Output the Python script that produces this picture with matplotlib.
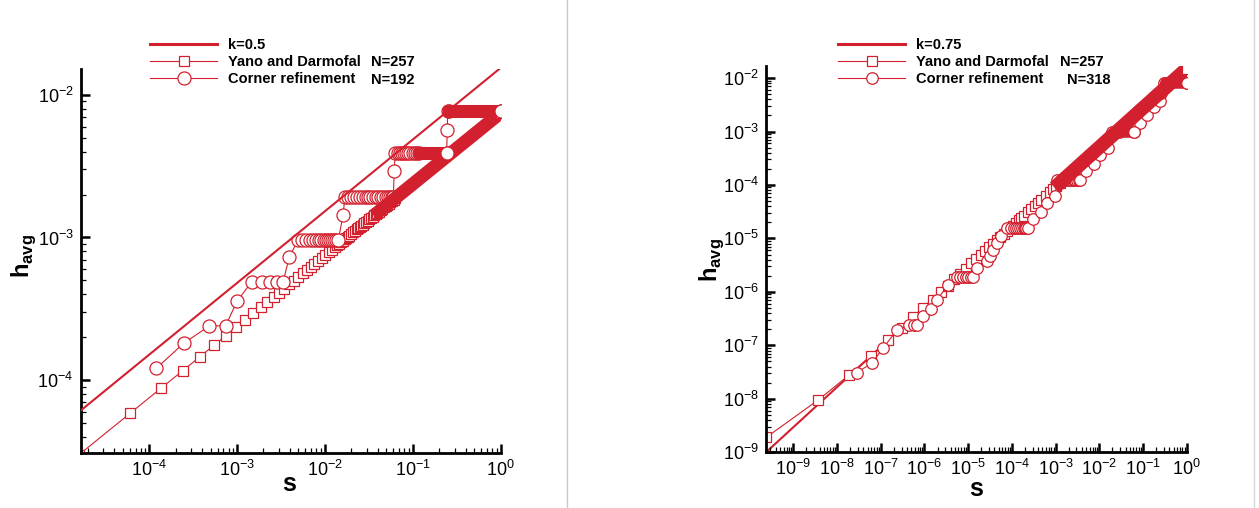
import numpy as np
import matplotlib
matplotlib.use('Agg')
import matplotlib.pyplot as plt
from matplotlib.ticker import LogLocator, FixedLocator, NullFormatter
from matplotlib.lines import Line2D

plt.rcParams['font.family'] = ['Liberation Sans', 'DejaVu Sans']
plt.rcParams['mathtext.fontset'] = 'custom'
plt.rcParams['mathtext.rm'] = 'Liberation Sans Narrow'
plt.rcParams['mathtext.bf'] = 'Liberation Sans:bold'

RED = '#d2202e'
W, H = 1259, 508

# ---------------- left panel, k=0.5 ----------------
ref1_s = [1.66e-5, 1.0]
ref1_h = [6.1e-5, 1.55e-2]

yano1_s = [1.6e-5, 6.1e-5, 1.37e-4, 2.4e-4, 3.8e-4, 5.5e-4, 7.5e-4, 9.8e-4,
           1.24e-3, 1.53e-3, 1.85e-3, 2.2e-3, 2.6e-3, 3.0e-3, 3.4e-3, 3.9e-3,
           4.4e-3, 5.0e-3, 5.6e-3, 6.2e-3, 6.9e-3, 7.6e-3, 8.4e-3, 9.2e-3,
           1.0e-2, 1.1e-2, 1.2e-2, 1.3e-2, 1.38e-2, 1.45e-2, 1.53e-2, 1.6e-2,
           1.68e-2, 1.75e-2, 1.83e-2, 1.9e-2, 2.0e-2, 2.1e-2, 2.2e-2, 2.3e-2,
           2.4e-2, 2.5e-2, 2.6e-2, 2.7e-2, 2.82e-2, 2.95e-2, 3.07e-2, 3.2e-2,
           3.35e-2, 3.5e-2, 3.65e-2, 3.8e-2, 3.95e-2, 4.1e-2, 4.3e-2, 4.5e-2,
           4.7e-2, 4.9e-2, 5.1e-2, 5.3e-2, 5.55e-2, 5.8e-2, 6.05e-2, 6.3e-2, 1.0]
yano1_h = [3.0e-5, 5.86e-5, 8.78e-5, 1.16e-4, 1.46e-4, 1.76e-4, 2.05e-4, 2.35e-4,
           2.64e-4, 2.93e-4, 3.23e-4, 3.52e-4, 3.82e-4, 4.11e-4, 4.37e-4, 4.68e-4,
           4.97e-4, 5.3e-4, 5.61e-4, 5.9e-4, 6.23e-4, 6.54e-4, 6.87e-4, 7.19e-4,
           7.5e-4, 7.87e-4, 8.22e-4, 8.55e-4, 8.81e-4, 9.03e-4, 9.28e-4, 9.49e-4,
           9.72e-4, 9.92e-4, 1.01e-3, 1.03e-3, 1.06e-3, 1.09e-3, 1.11e-3, 1.14e-3,
           1.16e-3, 1.19e-3, 1.21e-3, 1.23e-3, 1.26e-3, 1.29e-3, 1.31e-3, 1.34e-3,
           1.37e-3, 1.40e-3, 1.43e-3, 1.46e-3, 1.49e-3, 1.52e-3, 1.56e-3, 1.59e-3,
           1.63e-3, 1.66e-3, 1.69e-3, 1.73e-3, 1.77e-3, 1.81e-3, 1.84e-3, 1.88e-3, 7.5e-3]
# stretch where the squares pile up into a solid band
yano1_band_s = [4.1e-2, 1.0]
yano1_band_h = [1.52e-3, 7.5e-3]

corner1_s = [1.21e-4, 2.47e-4, 4.85e-4, 7.4e-4, 1.0e-3,
             1.47e-3, 1.9e-3, 2.37e-3, 2.82e-3, 3.35e-3,
             3.93e-3,
             4.96e-3, 5.5e-3, 6.1e-3, 6.7e-3, 7.3e-3, 7.9e-3, 8.5e-3, 9.1e-3,
             9.7e-3, 1.03e-2, 1.09e-2, 1.15e-2, 1.21e-2, 1.27e-2, 1.33e-2, 1.42e-2,
             1.61e-2,
             1.69e-2, 1.85e-2, 2.0e-2, 2.15e-2, 2.3e-2, 2.5e-2, 2.7e-2, 2.9e-2,
             3.1e-2, 3.3e-2, 3.55e-2, 3.8e-2, 4.05e-2, 4.3e-2, 4.6e-2, 4.9e-2,
             5.2e-2, 5.5e-2, 5.8e-2, 6.0e-2,
             6.15e-2,
             6.3e-2, 6.7e-2, 7.1e-2, 7.5e-2, 7.9e-2, 8.4e-2, 8.9e-2, 9.4e-2,
             1.0e-1, 1.06e-1, 1.12e-1, 1.18e-1, 2.43e-1,
             2.46e-1,
             2.5e-1, 2.6e-1, 1.0]
corner1_h = [1.21e-4, 1.81e-4, 2.4e-4, 2.4e-4, 3.56e-4,
             4.9e-4, 4.9e-4, 4.9e-4, 4.9e-4, 4.9e-4,
             7.3e-4,
             9.6e-4, 9.6e-4, 9.6e-4, 9.6e-4, 9.6e-4, 9.6e-4, 9.6e-4, 9.6e-4,
             9.6e-4, 9.6e-4, 9.6e-4, 9.6e-4, 9.6e-4, 9.6e-4, 9.6e-4, 9.6e-4,
             1.44e-3,
             1.93e-3, 1.93e-3, 1.93e-3, 1.93e-3, 1.93e-3, 1.93e-3, 1.93e-3, 1.93e-3,
             1.93e-3, 1.93e-3, 1.93e-3, 1.93e-3, 1.93e-3, 1.93e-3, 1.93e-3, 1.93e-3,
             1.93e-3, 1.93e-3, 1.93e-3, 1.93e-3,
             2.94e-3,
             3.9e-3, 3.9e-3, 3.9e-3, 3.9e-3, 3.9e-3, 3.9e-3, 3.9e-3, 3.9e-3,
             3.9e-3, 3.9e-3, 3.9e-3, 3.9e-3, 3.9e-3,
             5.7e-3,
             7.7e-3, 7.7e-3, 7.7e-3]
corner1_band_s = [[1.18e-1, 2.43e-1], [2.6e-1, 1.0]]
corner1_band_h = [[3.9e-3, 3.9e-3], [7.7e-3, 7.7e-3]]

# ---------------- right panel, k=0.75 ----------------
ref2_s = [2.37e-10, 1.0]
ref2_h = [1.0e-9, 1.66e-2]

yano2_s = [2.4e-10, 3.7e-9, 1.9e-8, 6.0e-8, 1.45e-7, 3.0e-7, 5.6e-7, 9.3e-7,
           1.53e-6, 2.33e-6, 3.41e-6, 4.83e-6, 6.65e-6, 8.94e-6, 1.18e-5, 1.53e-5,
           1.95e-5, 2.44e-5, 3.0e-5, 3.73e-5, 4.55e-5, 5.45e-5, 6.5e-5, 7.72e-5,
           9.1e-5, 1.06e-4, 1.24e-4, 1.43e-4, 1.65e-4, 1.89e-4, 2.3e-4, 2.76e-4,
           3.3e-4, 3.91e-4, 4.6e-4, 5.96e-4, 7.3e-4, 8.73e-4, 1.04e-3, 1.24e-3, 1.0]
yano2_h = [1.9e-9, 9.5e-9, 2.8e-8, 6.4e-8, 1.25e-7, 2.1e-7, 3.4e-7, 5.1e-7,
           7.2e-7, 9.9e-7, 1.3e-6, 1.72e-6, 2.2e-6, 2.7e-6, 3.4e-6, 4.05e-6,
           4.9e-6, 5.8e-6, 6.8e-6, 7.9e-6, 9.2e-6, 1.06e-5, 1.21e-5, 1.37e-5,
           1.55e-5, 1.74e-5, 1.95e-5, 2.17e-5, 2.42e-5, 2.67e-5, 3.1e-5, 3.6e-5,
           4.1e-5, 4.6e-5, 5.2e-5, 6.3e-5, 7.3e-5, 8.4e-5, 9.6e-5, 1.09e-4, 1.5e-2]
yano2_band_s = [1.24e-3, 1.0]
yano2_band_h = [1.09e-4, 1.5e-2]

corner2_s = [2.8e-8, 6.2e-8, 1.15e-7, 2.3e-7,
             4.5e-7, 5.7e-7, 6.9e-7,
             9.4e-7, 1.4e-6, 1.9e-6, 3.5e-6,
             5.5e-6, 6.5e-6, 7.6e-6, 8.7e-6, 1.0e-5, 1.15e-5, 1.3e-5,
             1.57e-5, 2.67e-5, 3.2e-5, 3.8e-5, 4.5e-5, 5.5e-5,
             7.8e-5, 9.5e-5, 1.1e-4, 1.25e-4, 1.4e-4, 1.55e-4, 1.7e-4, 1.85e-4,
             2.0e-4, 2.15e-4, 2.3e-4,
             3.1e-4, 4.7e-4, 6.3e-4, 9.6e-4,
             1.1e-3, 1.35e-3, 1.6e-3, 1.85e-3, 2.1e-3, 2.35e-3, 2.6e-3, 2.85e-3,
             3.1e-3, 3.4e-3, 3.7e-3,
             5.0e-3, 7.6e-3, 1.05e-2, 1.58e-2,
             2.0e-2, 2.4e-2, 2.8e-2, 6.1e-2,
             8.5e-2, 1.26e-1, 1.75e-1, 2.46e-1, 2.6e-1,
             3.0e-1, 3.4e-1, 1.0]
corner2_h = [3.1e-8, 4.6e-8, 9.0e-8, 1.9e-7,
             2.4e-7, 2.4e-7, 2.4e-7,
             3.5e-7, 4.7e-7, 7.0e-7, 1.35e-6,
             1.92e-6, 1.92e-6, 1.92e-6, 1.92e-6, 1.92e-6, 1.92e-6, 1.92e-6,
             2.76e-6, 3.8e-6, 4.6e-6, 6.1e-6, 8.1e-6, 1.1e-5,
             1.56e-5, 1.56e-5, 1.56e-5, 1.56e-5, 1.56e-5, 1.56e-5, 1.56e-5, 1.56e-5,
             1.56e-5, 1.56e-5, 1.56e-5,
             2.3e-5, 3.1e-5, 4.6e-5, 6.2e-5,
             1.23e-4, 1.23e-4, 1.23e-4, 1.23e-4, 1.23e-4, 1.23e-4, 1.23e-4, 1.23e-4,
             1.23e-4, 1.23e-4, 1.23e-4,
             1.8e-4, 2.45e-4, 3.6e-4, 5.0e-4,
             9.8e-4, 9.8e-4, 9.8e-4, 9.8e-4,
             1.45e-3, 2.0e-3, 2.9e-3, 3.7e-3, 5.3e-3,
             8.0e-3, 8.0e-3, 8.0e-3]
corner2_band_s = [[2.6e-2, 6.1e-2], [3.4e-1, 1.0]]
corner2_band_h = [[9.8e-4, 9.8e-4], [8.0e-3, 8.0e-3]]


def style_axes(ax, xlim, ylim, xdec, ydec):
    ax.set_xscale('log')
    ax.set_yscale('log')
    ax.set_xlim(*xlim)
    ax.set_ylim(*ylim)
    for side in ['top', 'right']:
        ax.spines[side].set_visible(False)
    for side in ['left', 'bottom']:
        ax.spines[side].set_linewidth(2.0)
    ax.xaxis.set_major_locator(FixedLocator([10.0 ** k for k in xdec]))
    ax.yaxis.set_major_locator(FixedLocator([10.0 ** k for k in ydec]))
    for axis in [ax.xaxis, ax.yaxis]:
        axis.set_minor_locator(LogLocator(base=10, subs=np.arange(2, 10), numticks=30))
        axis.set_minor_formatter(NullFormatter())
    ax.tick_params(which='major', direction='in', length=6.5, width=1.8,
                   labelsize=13, pad=5, colors='black')
    ax.tick_params(which='minor', direction='in', length=3.5, width=0.9)
    ax.tick_params(top=False, right=False, which='both')


def draw_series(ax, s, h, marker, ms, band_s, band_h, band_lw, capstyle):
    ax.plot(s, h, '-', color=RED, lw=0.8, marker=marker, ms=ms,
            mfc='white', mec=RED, mew=0.9, zorder=2)
    for bs, bh in zip(band_s, band_h):
        ax.plot(bs, bh, '-', color=RED, lw=band_lw, solid_capstyle=capstyle,
                solid_joinstyle='round', zorder=3)
        ax.plot(bs[-1:], bh[-1:], linestyle='none', marker=marker, ms=ms,
                mfc='white', mec=RED, mew=0.9, zorder=4)


fig = plt.figure(figsize=(W / 100, H / 100), dpi=100)
ax1 = fig.add_axes([80.5 / W, 1 - 453.3 / H, 420.2 / W, 384 / H])
ax2 = fig.add_axes([766 / W, 1 - 452.3 / H, 420.7 / W, 386 / H])

style_axes(ax1, (10 ** -4.781, 1.0), (10 ** -4.514, 10 ** -1.82),
           range(-4, 1), range(-4, -1))
style_axes(ax2, (10 ** -9.625, 1.0), (1e-9, 10 ** -1.78),
           range(-9, 1), range(-9, -1))

draw_series(ax1, yano1_s, yano1_h, 's', 7.2, [yano1_band_s], [yano1_band_h], 9.5, 'projecting')
draw_series(ax1, corner1_s, corner1_h, 'o', 9.4, corner1_band_s, corner1_band_h, 9.4, 'round')
ax1.plot(ref1_s, ref1_h, '-', color=RED, lw=1.5, zorder=5)

draw_series(ax2, yano2_s, yano2_h, 's', 7.0, [yano2_band_s], [yano2_band_h], 10.0, 'projecting')
draw_series(ax2, corner2_s, corner2_h, 'o', 8.3, corner2_band_s, corner2_band_h, 8.3, 'round')
ax2.plot(ref2_s, ref2_h, '-', color=RED, lw=1.5, zorder=1)

# axis titles
for ax, sx, sy, hx, hy in [(ax1, 0.496, -0.08, -0.135, 0.515),
                           (ax2, 0.499, -0.095, -0.13, 0.498)]:
    ax.text(sx, sy, 's', transform=ax.transAxes, ha='center', va='center',
            fontsize=18, fontweight='bold')
    ax.text(hx, hy, r'$\mathbf{h}_{\mathbf{avg}}$', transform=ax.transAxes,
            ha='center', va='center', rotation=90, fontsize=17)

# legends
leg_props = dict(weight='bold', size=10.5)
for ax, x0, klab, n_yano, n_corner, nx1, nx2, ms_sq, ms_ci in [
        (ax1, 150, 'k=0.5', 'N=257', 'N=192', 370.7, 370.7, 7.2, 9.4),
        (ax2, 838, 'k=0.75', 'N=257', 'N=318', 1060, 1066.7, 7.0, 8.3)]:
    handles = [Line2D([], [], color=RED, lw=2.2),
               Line2D([], [], color=RED, lw=0.8, marker='s', ms=ms_sq, mfc='white', mec=RED, mew=0.9),
               Line2D([], [], color=RED, lw=0.8, marker='o', ms=ms_ci, mfc='white', mec=RED, mew=0.9)]
    ax.legend(handles, [klab, 'Yano and Darmofal', 'Corner refinement'],
              loc='upper left', bbox_to_anchor=(x0 / W, 1 - 38 / H),
              bbox_transform=fig.transFigure, frameon=False, borderpad=0,
              borderaxespad=0, handlelength=4.6, handletextpad=0.75,
              labelspacing=0.22, prop=leg_props)
    fig.text(nx1 / W, 1 - 62.5 / H, n_yano, ha='left', va='center', **leg_props)
    fig.text(nx2 / W, 1 - 80 / H, n_corner, ha='left', va='center', **leg_props)

# separators of the two pictures
fig.add_artist(Line2D([567 / W, 567 / W], [0, 1], color='#c8c8c8', lw=1.0))
fig.add_artist(Line2D([1254 / W, 1254 / W], [0, 1], color='#d8d8d8', lw=1.0))

fig.savefig('out.png', dpi=100)
